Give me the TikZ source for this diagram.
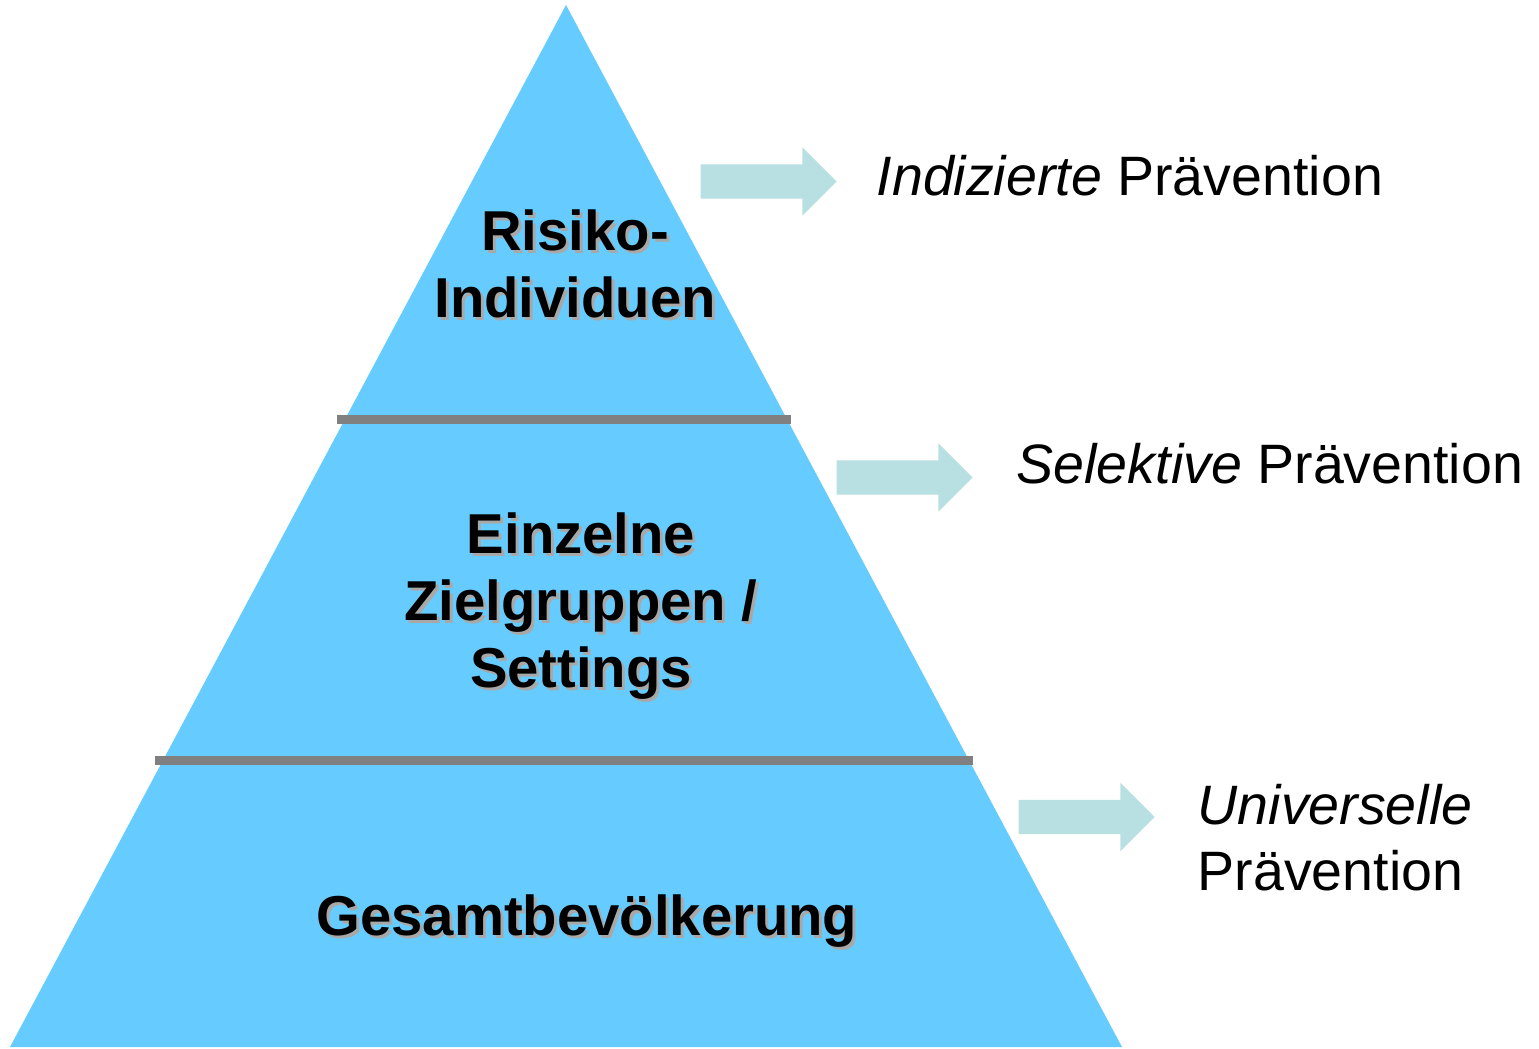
\documentclass[tikz,border=0pt]{standalone}
\usepackage{fontspec}
\setmainfont{Liberation Sans}
\usepackage{tikz}
\usetikzlibrary{shapes.arrows, positioning}

\definecolor{pyrblau}{HTML}{66CCFF}
\definecolor{pyrgrau}{HTML}{808080}
\definecolor{pfeilblau}{HTML}{B8E0E3}
\definecolor{schattengrau}{HTML}{A8A8A8}

\tikzset{
  stufe/.style={font=\fontsize{16pt}{19pt}\selectfont\bfseries, align=center, inner sep=0pt},
  schatten/.style={stufe, text=schattengrau},
  ebene/.style={font=\fontsize{15.8pt}{18.8pt}\selectfont, align=left, inner sep=0pt, anchor=base west},
  pfeil/.style={single arrow, fill=pfeilblau, draw=none, inner xsep=0pt, inner ysep=0.165cm,
    minimum height=1.36cm, minimum width=0.67cm, single arrow head extend=0.17cm},
  trenner/.style={draw=pyrgrau, line width=0.09cm}
}

\begin{document}
\begin{tikzpicture}
\useasboundingbox (0,0) rectangle (15.39,10.48);
% Pyramide
\coordinate (spitze) at (5.66,10.43);
\coordinate (links) at (0.10,0.01);
\coordinate (rechts) at (11.22,0.01);
\fill[pyrblau] (links) -- (spitze) -- (rechts) -- cycle;
\draw[trenner] (3.37,6.28) -- (7.91,6.28);
\draw[trenner] (1.55,2.875) -- (9.73,2.875);

% Beschriftung der Stufen
\node[schatten] (risikoS) at (5.78,7.81) {Risiko-\\Individuen};
\node[stufe] (risiko) at (5.75,7.84) {Risiko-\\Individuen};
\node[schatten] (zielS) at (5.84,4.39) {Einzelne\\Zielgruppen /\\Settings};
\node[stufe] (ziel) at (5.81,4.42) {Einzelne\\Zielgruppen /\\Settings};
\node[schatten] (gesamtS) at (5.90,1.24) {Gesamtbevölkerung};
\node[stufe] (gesamt) at (5.87,1.27) {Gesamtbevölkerung};

% Pfeile
\node[pfeil] (pfeil1) at (7.60,8.665) {};
\node[pfeil] (pfeil2) at (8.96,5.705) {};
\node[pfeil] (pfeil3) at (10.78,2.31) {};

% Praeventionsebenen
\node[ebene] (indiziert) at (8.76,8.52) {\textit{Indizierte} Prävention};
\node[ebene] (selektiv) at (10.16,5.64) {\textit{Selektive} Prävention};
\node[ebene] (universell) at (11.97,1.57) {\textit{Universelle}\\Prävention};
\end{tikzpicture}
\end{document}
